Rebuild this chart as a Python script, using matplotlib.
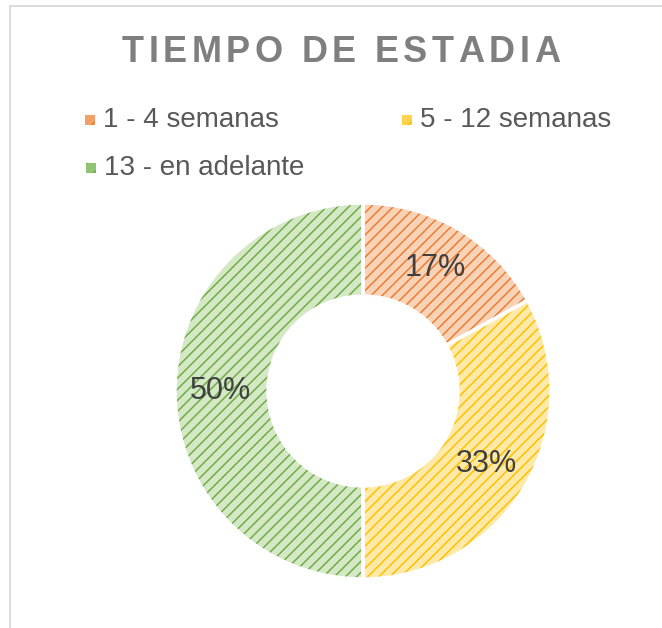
import matplotlib
matplotlib.use("Agg")
import matplotlib.pyplot as plt
from matplotlib.patches import Rectangle

# Datos
categorias = ["1 - 4 semanas", "5 - 12 semanas", "13 - en adelante"]
valores = [17, 33, 50]
titulo = "TIEMPO DE ESTADIA"

# Colores
fuertes = ["#ED7D31", "#FFC000", "#70AD47"]
claros = ["#F9D3B8", "#FFE9A8", "#D4E8C6"]
medios = ["#F2A06A", "#FFD24D", "#93C273"]

plt.rcParams['font.family'] = ['Liberation Sans', 'DejaVu Sans']
plt.rcParams['hatch.linewidth'] = 1.1

W, H = 662, 628
fig = plt.figure(figsize=(W / 100, H / 100), dpi=100)

def fx(px):
    return px / W

def fy(py):
    return 1 - py / H

# borde del area del grafico
fig.patches.append(Rectangle((fx(10), fy(700)), 2, fy(6) - fy(700), transform=fig.transFigure,
                             fill=False, edgecolor="#D9D9D9", linewidth=1.3))

# Titulo con espaciado entre letras (ancho total ~438 px)
renderer = fig.canvas.get_renderer()
tam = 26
anchos = []
for ch in titulo:
    t = fig.text(0, 0, ch if ch != " " else "a a", fontsize=tam, fontweight="bold")
    w = t.get_window_extent(renderer).width
    if ch == " ":
        t2 = fig.text(0, 0, "aa", fontsize=tam, fontweight="bold")
        w = w - t2.get_window_extent(renderer).width
        t2.remove()
    t.remove()
    anchos.append(w)
esp = (438 - sum(anchos)) / (len(titulo) - 1)
x = 122
for ch, w in zip(titulo, anchos):
    if ch != " ":
        fig.text(fx(x), fy(61.5), ch, fontsize=tam, fontweight="bold", color="#7F7F7F",
                 ha="left", va="baseline")
    x += w + esp

# Leyenda
pos_ley = [(90, 120), (407, 120), (91, 168)]
for (px, py), lab, fc, mc in zip(pos_ley, categorias, fuertes, medios):
    fig.patches.append(Rectangle((fx(px - 5), fy(py + 5)), 10 / W, 10 / H, transform=fig.transFigure,
                                 facecolor=mc, edgecolor=fc, linewidth=0, hatch="//"))
    fig.text(fx(px + 13), fy(py), lab, fontsize=20, color="#595959", ha="left", va="center")

# Dona
cx, cy, r = 363, 391, 188
ax = fig.add_axes([fx(cx - r), fy(cy + r), 2 * r / W, 2 * r / H])
cunas, textos, pct = ax.pie(valores, startangle=90, counterclock=False, radius=1,
                            colors=claros, autopct="%.0f%%", pctdistance=0.76,
                            wedgeprops=dict(width=0.495, linewidth=0),
                            textprops=dict(fontsize=22, color="#404040"))
for c, col in zip(cunas, fuertes):
    c.set_edgecolor(col)
    c.set_hatch("///")
    c.set_linewidth(0)
ax.pie(valores, startangle=90, counterclock=False, radius=1,
       colors=["none"] * 3,
       wedgeprops=dict(width=0.495, linewidth=2.5, edgecolor="white"))
ax.set_xlim(-1, 1)
ax.set_ylim(-1, 1)
ax.set_aspect("equal")
ax.axis("off")

fig.savefig("out.png", dpi=100)
